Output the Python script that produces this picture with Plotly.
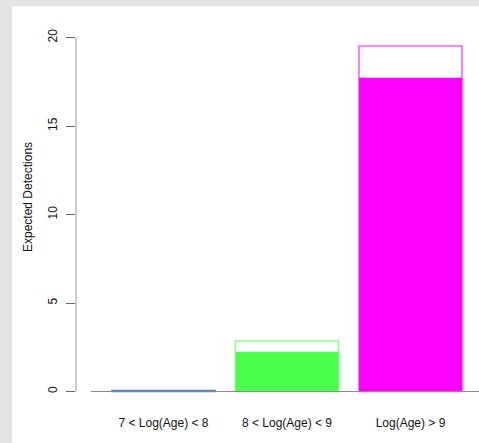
import plotly.graph_objects as go

# Expected detections per log-age bin
categories = ["7 < Log(Age) < 8", "8 < Log(Age) < 9", "Log(Age) > 9"]
filled_values = [0.06, 2.25, 17.73]     # solid part of each bar
total_values = [0.06, 2.85, 19.52]      # outlined upper bound
fill_colors = ["#4b83c4", "#4dff4d", "#ff00ff"]
edge_colors = ["#4b83c4", "#8cff8c", "#ff5cff"]
y_ticks = [0, 5, 10, 15, 20]

W, H = 479, 443
L, R, T, B = 76, 0, 20, 43
plot_w, plot_h = W - L - R, H - T - B

x_pos = list(range(len(categories)))
bar_w = 0.834

fig = go.Figure()

# Outlined totals (transparent interior)
fig.add_trace(go.Bar(
    x=x_pos, y=total_values, width=bar_w,
    marker=dict(color="rgba(255,255,255,0)",
                line=dict(color=edge_colors, width=1.6)),
    showlegend=False, hoverinfo="skip",
))
# Solid filled portion
fig.add_trace(go.Bar(
    x=x_pos, y=filled_values, width=bar_w,
    marker=dict(color=fill_colors, line=dict(width=0)),
    showlegend=False,
))

def px_x(p):
    return (p - L) / plot_w

def px_y(p):
    return (H - B - p) / plot_h

shapes = [
    # grey frame bands on the left and top
    dict(type="rect", xref="paper", yref="paper", layer="below",
         x0=px_x(0), x1=px_x(12), y0=px_y(H), y1=px_y(0),
         fillcolor="#e3e3e3", line=dict(width=0)),
    dict(type="rect", xref="paper", yref="paper", layer="below",
         x0=px_x(0), x1=1.0, y0=px_y(6), y1=px_y(0),
         fillcolor="#e3e3e3", line=dict(width=0)),
    # y axis line spanning the tick range
    dict(type="line", xref="paper", yref="y",
         x0=0, x1=0, y0=y_ticks[0], y1=y_ticks[-1],
         line=dict(color="#9a9a9a", width=1)),
    # baseline under the bars
    dict(type="line", xref="paper", yref="y",
         x0=px_x(91), x1=1.0, y0=0, y1=0,
         line=dict(color="#8a8a8a", width=1)),
]

fig.update_layout(
    width=W, height=H,
    margin=dict(l=L, r=R, t=T, b=B),
    paper_bgcolor="white", plot_bgcolor="white",
    barmode="overlay",
    font=dict(family="Liberation Sans, Arial, sans-serif", size=12, color="#111"),
    shapes=shapes,
    xaxis=dict(
        range=[-0.7085, 2.5547],
        tickvals=x_pos, ticktext=categories,
        showgrid=False, zeroline=False, showline=False, ticks="",
        ticklabelstandoff=14, tickfont=dict(size=12),
    ),
    yaxis=dict(
        range=[-0.480, 20.989],
        tickvals=y_ticks, ticktext=[str(v) for v in y_ticks],
        tickangle=-90,
        showgrid=False, zeroline=False, showline=False,
        ticks="outside", ticklen=9, tickwidth=1, tickcolor="#666",
        ticklabelstandoff=4, tickfont=dict(size=12),
    ),
    annotations=[dict(
        text="Expected Detections", textangle=-90,
        xref="paper", yref="paper", x=px_x(28), y=px_y(197),
        xanchor="center", yanchor="middle", showarrow=False,
        font=dict(size=12, color="#111"),
    )],
)

fig.write_html("out.html")
